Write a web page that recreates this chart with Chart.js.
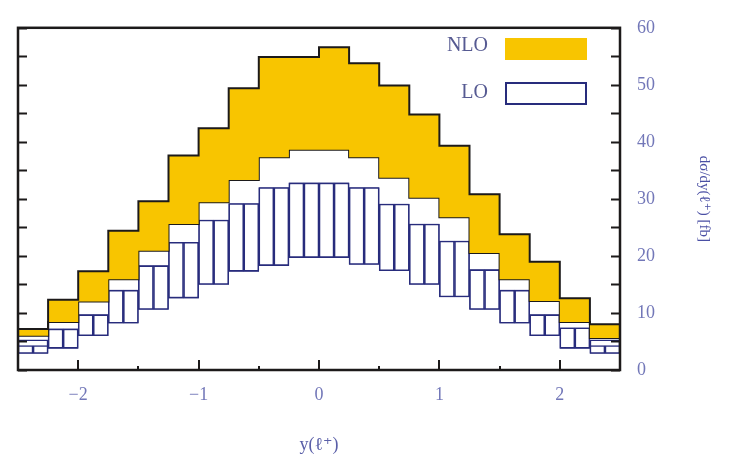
<!DOCTYPE html>
<html>
<head>
<meta charset="utf-8">
<script src="https://cdn.jsdelivr.net/npm/chart.js@4.4.1/dist/chart.umd.min.js"></script>
<style>
  html, body { margin: 0; padding: 0; background: #fff; }
  #wrap { width: 731px; height: 463px; }
</style>
</head>
<body>
<div id="wrap"><canvas id="c"></canvas></div>
<script>
// bordes de los bins en y(l+), ancho 0.25
const binEdges = [-2.5, -2.25, -2, -1.75, -1.5, -1.25, -1, -0.75, -0.5, -0.25, 0,
  0.25, 0.5, 0.75, 1, 1.25, 1.5, 1.75, 2, 2.25, 2.5];

// banda NLO (limite superior / inferior), fb
const nloHigh = [7.2, 12.3, 17.3, 24.4, 29.6, 37.6, 42.4, 49.4, 54.9, 54.9,
  56.6, 53.8, 49.9, 44.8, 39.3, 30.8, 23.8, 19.0, 12.6, 8.0];
const nloLow = [6.0, 8.4, 12.0, 15.9, 20.9, 25.6, 29.4, 33.3, 37.3, 38.6,
  38.6, 37.3, 33.7, 30.2, 26.8, 20.5, 15.9, 12.1, 8.4, 5.6];

// banda LO: caja exterior, parte dividida y limite inferior
const loHigh = [5.3, 7.2, 9.7, 14.0, 18.3, 22.4, 26.3, 29.2, 32.0, 32.8,
  32.8, 32.0, 29.1, 25.6, 22.6, 17.6, 14.0, 9.7, 7.4, 5.3];
const loSplit = [4.3, 7.2, 9.7, 14.0, 18.3, 22.4, 26.3, 29.2, 32.0, 32.8,
  32.8, 32.0, 29.1, 25.6, 22.6, 17.6, 14.0, 9.7, 7.4, 4.3];
const loLow = [2.9, 3.8, 6.0, 8.2, 10.6, 12.6, 15.0, 17.3, 18.3, 19.7,
  19.7, 18.5, 17.4, 15.0, 12.8, 10.6, 8.2, 6.0, 3.8, 2.9];

const xTicks = [-2, -1, 0, 1, 2];
const yTicks = [0, 10, 20, 30, 40, 50, 60];
const seriesNames = ['NLO', 'LO'];

const YELLOW = '#f8c500';
const NAVY = '#282c7c';
const INK = '#1c1a1a';
const TICKCOL = '#7277b8';
const serif = '"Liberation Serif", "DejaVu Serif", serif';

// puntos escalonados: un punto por borde (stepped 'after' toma el valor del bin anterior)
const stepPts = (vals) => binEdges.map((x, i) => ({ x, y: vals[Math.max(i - 1, 0)] }));
const centers = binEdges.slice(0, -1).map((x, i) => (x + binEdges[i + 1]) / 2);
const halfW = (binEdges[1] - binEdges[0]) / 4;

const loOuter = centers.map((c, i) => ({ x: c, y: [loLow[i], loHigh[i]] }));
const loInner = centers.flatMap((c, i) => [
  { x: c - halfW, y: [loLow[i], loSplit[i]] },
  { x: c + halfW, y: [loLow[i], loSplit[i]] },
]);

const fmtMinus = (v) => (v < 0 ? '\u2212' + Math.abs(v) : String(v));

// marco, ticks interiores y leyenda
const framePlugin = {
  id: 'frame',
  afterDatasetsDraw(chart) {
    const { ctx, chartArea: a, scales: { x, y } } = chart;
    ctx.save();
    ctx.strokeStyle = INK;
    ctx.lineWidth = 2;
    ctx.beginPath();
    const yStep = yTicks[1] - yTicks[0];
    for (let v = yTicks[0]; v <= yTicks.at(-1); v += yStep / 2) {
      const py = Math.round(y.getPixelForValue(v)) + 0.5;
      ctx.moveTo(a.left, py); ctx.lineTo(a.left + 9, py);
      ctx.moveTo(a.right, py); ctx.lineTo(a.right - 9, py);
    }
    const xStep = xTicks[1] - xTicks[0];
    for (let v = xTicks[0] - xStep / 2; v <= xTicks.at(-1) + xStep / 2; v += xStep / 2) {
      const px = Math.round(x.getPixelForValue(v));
      const major = xTicks.includes(v);
      ctx.moveTo(px, a.bottom); ctx.lineTo(px, a.bottom - (major ? 10 : 4));
    }
    ctx.stroke();
    ctx.lineWidth = 2.5;
    ctx.strokeRect(a.left, a.top, a.right - a.left, a.bottom - a.top);

    // leyenda
    ctx.font = '20px ' + serif;
    ctx.fillStyle = '#565a92';
    ctx.textAlign = 'right';
    ctx.textBaseline = 'middle';
    ctx.fillText(seriesNames[0], 488, 46);
    ctx.fillText(seriesNames[1], 488, 93);
    ctx.fillStyle = YELLOW;
    ctx.fillRect(505, 38, 82, 22);
    ctx.fillStyle = '#fff';
    ctx.strokeStyle = NAVY;
    ctx.lineWidth = 2;
    ctx.fillRect(506, 83, 80, 21);
    ctx.strokeRect(506, 83, 80, 21);
    ctx.restore();
  },
};

new Chart(document.getElementById('c'), {
  type: 'bar',
  data: {
    datasets: [
      {
        type: 'line', label: 'NLO low', data: stepPts(nloLow), stepped: 'after',
        borderColor: INK, borderWidth: 2, pointRadius: 0, fill: false, order: 2,
      },
      {
        type: 'line', label: seriesNames[0], data: stepPts(nloHigh), stepped: 'after',
        borderColor: INK, borderWidth: 2, pointRadius: 0, fill: '-1',
        backgroundColor: YELLOW, order: 1,
      },
      {
        label: seriesNames[1], data: loOuter, xAxisID: 'x2', grouped: false,
        backgroundColor: '#fff', borderColor: NAVY, borderWidth: 1.6, borderSkipped: false,
        barPercentage: 1, categoryPercentage: 1, order: 4,
      },
      {
        label: 'LO split', data: loInner, grouped: false,
        backgroundColor: '#fff', borderColor: NAVY, borderWidth: 1.6, borderSkipped: false,
        barPercentage: 1, categoryPercentage: 1, order: 3,
      },
    ],
  },
  options: {
    responsive: true,
    maintainAspectRatio: false,
    animation: false,
    events: [],
    layout: { padding: { left: 18, top: 19, right: 0, bottom: 0 } },
    plugins: { legend: { display: false }, tooltip: { enabled: false } },
    scales: {
      x: {
        type: 'linear', min: binEdges[0], max: binEdges.at(-1), offset: false,
        grid: { display: false, drawTicks: false, offset: false }, border: { display: false },
        afterBuildTicks: (s) => { s.ticks = xTicks.map((value) => ({ value })); },
        ticks: {
          padding: 14, color: TICKCOL,
          font: { family: serif, size: 18 }, callback: (v) => fmtMinus(v),
        },
        title: {
          display: true, text: 'y(\u2113\u207a)', color: '#5a5fa8',
          font: { family: serif, size: 18 }, padding: { top: 0, bottom: 7 },
        },
        afterFit: (s) => { s.height = 93; },
      },
      x2: {
        type: 'linear', display: false, min: binEdges[0], max: binEdges.at(-1), offset: false,
        grid: { offset: false },
        afterBuildTicks: (s) => { s.ticks = xTicks.map((value) => ({ value })); },
      },
      y: {
        position: 'right', min: yTicks[0], max: yTicks.at(-1),
        grid: { display: false, drawTicks: false }, border: { display: false },
        ticks: {
          stepSize: yTicks[1] - yTicks[0], padding: 17, color: TICKCOL,
          font: { family: serif, size: 18 },
        },
        title: {
          display: true, text: 'd\u03c3/dy(\u2113\u207a) [fb]', color: '#4a4fa4',
          font: { family: serif, size: 15 }, padding: { top: 18, bottom: 0 },
        },
        afterFit: (s) => { s.width = 111; },
      },
    },
  },
  plugins: [framePlugin],
});
</script>
</body>
</html>
